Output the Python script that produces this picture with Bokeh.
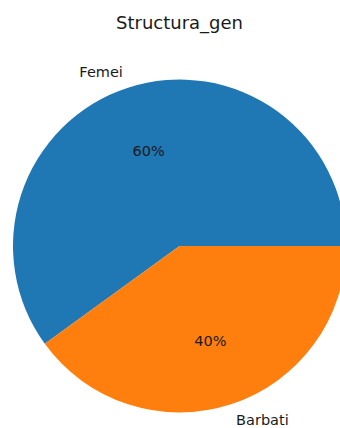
import numpy as np
from bokeh.plotting import figure
from bokeh.models import ColumnDataSource, Range1d
from bokeh.core.properties import value
from bokeh.embed import file_html
from bokeh.resources import INLINE

title = "Structura_gen"
labels = ["Femei", "Barbati"]
shares = [60, 40]
colors = ["#1f77b4", "#ff7f0e"]

W, H = 340, 428
cx_px, cy_px, r_px = 179.0, 245.5, 166.5

vals = np.array(shares, dtype=float)
fr = vals / vals.sum()
ends = np.cumsum(fr) * 2 * np.pi
starts = ends - fr * 2 * np.pi
mids = (starts + ends) / 2

src = ColumnDataSource(dict(start=starts, end=ends, color=colors))

lx = 1.1 * np.cos(mids)
ly = 1.1 * np.sin(mids)
align = ["left" if x > 0 else "right" for x in lx]
lab_src = ColumnDataSource(dict(x=lx, y=ly, t=labels, align=align))

px = 0.6 * np.cos(mids)
py = 0.6 * np.sin(mids)
pct_src = ColumnDataSource(dict(x=px, y=py, t=["%d%%" % round(f * 100) for f in fr]))

p = figure(width=W, height=H, output_backend="svg", toolbar_location=None,
           x_range=Range1d(-cx_px / r_px, (W - cx_px) / r_px),
           y_range=Range1d(-(H - cy_px) / r_px, cy_px / r_px),
           min_border=0, min_border_left=0, min_border_right=0,
           min_border_top=0, min_border_bottom=0)
p.axis.visible = False
p.grid.visible = False
p.outline_line_color = None
p.background_fill_color = "white"
p.border_fill_color = "white"

p.wedge(x=0, y=0, radius=1, start_angle="start", end_angle="end",
        fill_color="color", line_color=None, source=src)

p.text(x="x", y="y", text="t", source=lab_src, text_align="align",
       text_baseline="middle", text_font=value("DejaVu Sans"),
       text_font_size="14.5px", text_color="#1a1a1a")
p.text(x="x", y="y", text="t", source=pct_src, text_align="center",
       text_baseline="middle", text_font=value("DejaVu Sans"),
       text_font_size="14.5px", text_color="#1a1a1a")

p.text(x=[0], y=[(cy_px - 22) / r_px], text=[title], text_align="center",
       text_baseline="middle", text_font=value("DejaVu Sans"),
       text_font_size="18px", text_color="#1a1a1a")

open("out.html", "w").write(file_html(p, INLINE))
